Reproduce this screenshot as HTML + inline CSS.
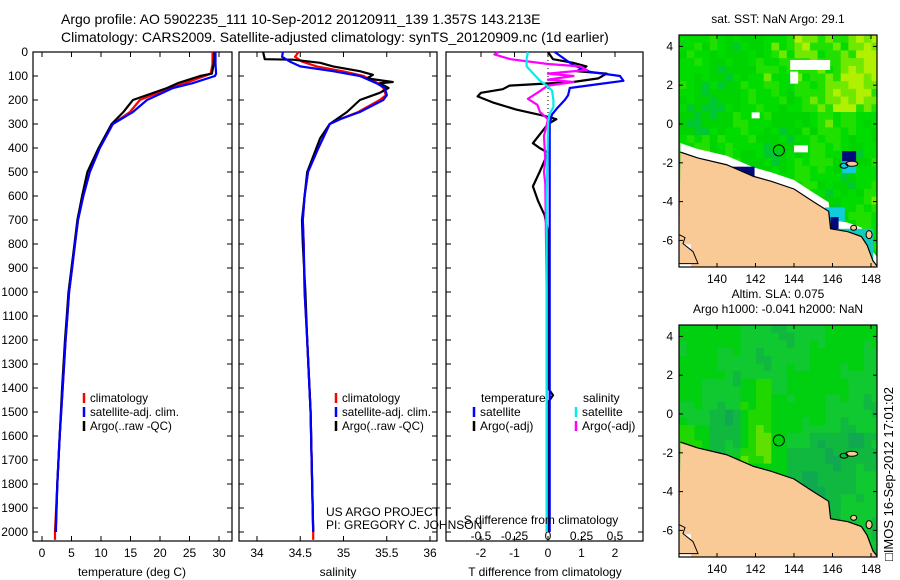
<!DOCTYPE html>
<html><head><meta charset="utf-8"><style>
html,body{margin:0;padding:0;background:#fff;}
svg{display:block;font-family:"Liberation Sans",sans-serif;}
</style></head><body>
<svg id="fig" width="900" height="580" viewBox="0 0 900 580" xmlns="http://www.w3.org/2000/svg">
<text x="61" y="24" font-size="14">Argo profile: AO 5902235_111 10-Sep-2012 20120911_139 1.357S 143.213E</text>
<text x="61" y="42" font-size="14">Climatology: CARS2009. Satellite-adjusted climatology: synTS_20120909.nc (1d earlier)</text>
<text transform="translate(893,474) rotate(-90)" text-anchor="middle" font-size="13">□IMOS 16-Sep-2012 17:01:02</text>
</svg>
<script>
// ---- data ----
const depthTicks = [0,100,200,300,400,500,600,700,800,900,1000,1100,1200,1300,1400,1500,1600,1700,1800,1900,2000];
const tempTicks = [0,5,10,15,20,25,30];
const salTicks = [34,34.5,35,35.5,36];
const salTickLabels = ['34','34.5','35','35.5','36'];
const tdiffTicks = [-2,-1,0,1,2];
const sdiffTicks = [-0.5,-0.25,0,0.25,0.5];
const sdiffTickLabels = ['-0.5','-0.25','0','0.25','0.5'];

const tDepth = [0,50,90,100,130,150,200,250,300,400,500,600,700,800,900,1000,1100,1200,1400,1600,1800,2000];
const tClim = [28.9,28.9,28.6,27.6,24.2,21.7,16.6,14.9,12.0,9.8,8.1,7.0,6.1,5.6,5.1,4.6,4.3,4.0,3.5,3.0,2.6,2.2];
const tSat  = [29.4,29.4,29.5,29.3,25.5,22.2,17.8,15.4,12.0,9.8,8.1,7.0,6.1,5.6,5.1,4.6,4.3,4.0,3.5,3.0,2.6,2.35];
const tArgo = [29.2,29.1,28.8,26.8,23.0,21.2,15.4,13.8,11.8,9.6,7.7,6.8,6.0,5.5,5.0,4.5,4.2,3.9,3.4,3.0,2.6,2.3];

const sDepth = [0,20,40,60,80,100,130,150,180,200,250,280,300,400,500,600,700,800,1000,1200,1500,2000];
const sClim = [34.48,34.44,34.52,34.69,34.99,35.23,35.40,35.46,35.49,35.42,35.17,34.96,34.84,34.71,34.59,34.55,34.53,34.54,34.55,34.58,34.62,34.65];
const sSat  = [34.30,34.29,34.38,34.50,34.88,35.19,35.38,35.48,35.50,35.46,35.19,34.96,34.84,34.71,34.59,34.55,34.53,34.54,34.55,34.58,34.62,34.65];
const sArgoDepth = [0,30,32,45,60,80,95,110,125,130,150,170,200,250,300,360,500,700,800,1000,1200,1500,2000];
const sArgo = [34.07,34.09,34.42,34.73,34.88,35.19,35.34,35.27,35.57,35.42,35.52,35.42,35.19,35.04,34.84,34.73,34.58,34.52,34.53,34.56,34.58,34.62,34.65];

const dSatTDepth = [0,54,83,100,120,135,150,180,200,230,260,300,500,1000,1500,2000];
const dSatT = [0.2,0.75,1.25,2.15,2.25,1.45,0.65,0.6,0.5,0.3,0.12,0.05,0.05,0.05,0.05,0.05];
const dArgoTDepth = [0,30,45,60,80,90,110,125,140,155,170,185,210,240,265,280,300,380,400,420,500,560,620,680,750,1000,1400,1430,1460,2000];
const dArgoT = [0,0.15,0.75,1.15,0.85,1.75,1.5,0.75,-1.15,-1.35,-2.0,-2.1,-1.65,-0.95,-0.15,0.25,0,-0.45,-0.25,0,-0.25,-0.45,-0.3,-0.1,0,0,0,0.15,0,0];
const dArgoSDepth = [0,10,30,50,60,75,90,100,115,125,140,170,195,220,250,280,350,450,500,550,1000,2000];
const dArgoS = [-0.37,-0.4,-0.28,0,0.24,0.29,0,0.19,0,0.19,0,-0.08,-0.15,-0.08,-0.06,0,-0.03,-0.02,-0.03,-0.02,-0.01,-0.01];
const dSatSDepth = [0,30,60,90,120,140,160,200,230,260,300,600,1000,2000];
const dSatS = [-0.15,-0.16,-0.16,-0.11,-0.06,-0.01,0.03,0.04,0.04,0.01,0,-0.01,-0.01,-0.01];

const mapLonTicks = [140,142,144,146,148];
const mapLatTicks = [-6,-4,-2,0,2,4];

// ---- scales ----
const TOP=52, BOT=541;
const yD = d => TOP + d*0.24;
const xT = t => 42 + 5.9*t;
const xS = s => 257 + (s-34)*86.5;
const xTd = v => 548 + 33.5*v;
const xSd = v => 548 + 134*v;

const svg = document.getElementById('fig');
const NS = 'http://www.w3.org/2000/svg';
function mk(tag, attrs, parent){
  const e = document.createElementNS(NS, tag);
  for (const k in attrs) e.setAttribute(k, attrs[k]);
  (parent||svg).appendChild(e);
  return e;
}
function txt(str, x, y, size, anchor, parent){
  const t = mk('text', {x:x, y:y, 'font-size':size, 'text-anchor':anchor||'start'}, parent);
  t.textContent = str;
  return t;
}

// ---- profile panels ----
const panels = [
  {name:'temperature-panel', x0:33, x1:232},
  {name:'salinity-panel', x0:239, x1:437},
  {name:'difference-panel', x0:446, x1:643}
];
panels.forEach(p=>{
  const g = mk('g', {});
  
  
  p.g = g;
  const r = mk('rect', {x:p.x0, y:TOP, width:p.x1-p.x0, height:BOT-TOP, fill:'#fff', stroke:'#000', 'stroke-width':1.2}, g);
  
  
  depthTicks.forEach(d=>{
    mk('line', {x1:p.x0, x2:p.x0+5, y1:yD(d), y2:yD(d), stroke:'#000'}, g);
    mk('line', {x1:p.x1, x2:p.x1-5, y1:yD(d), y2:yD(d), stroke:'#000'}, g);
  });
});
depthTicks.forEach(d=>{
  const t = txt(String(d), 28, yD(d)+4, 12, 'end');
  
  
});
function xTicks(p, ticks, labels, fx, ly){
  ticks.forEach((v,i)=>{
    const x = fx(v);
    mk('line', {x1:x, x2:x, y1:BOT, y2:BOT-5, stroke:'#000'}, p.g);
    mk('line', {x1:x, x2:x, y1:TOP, y2:TOP+5, stroke:'#000'}, p.g);
    const t = txt(labels[i], x, ly, 12, 'middle', p.g);
    
    
  });
}
xTicks(panels[0], tempTicks, tempTicks.map(String), xT, 557);
xTicks(panels[1], salTicks, salTickLabels, xS, 557);
xTicks(panels[2], tdiffTicks, tdiffTicks.map(String), xTd, 557);
sdiffTicks.forEach((v,i)=>{
  const t = txt(sdiffTickLabels[i], xSd(v), 540, 12, 'middle', panels[2].g);
  
  
});
let at;
at = txt('temperature (deg C)', 132, 576, 12, 'middle');


at = txt('salinity', 338, 576, 12, 'middle');


at = txt('T difference from climatology', 545, 576, 12, 'middle');


at = txt('S difference from climatology', 541, 524, 12, 'middle');



const zl = mk('line', {x1:xTd(0), x2:xTd(0), y1:TOP, y2:yD(260), stroke:'#000', 'stroke-dasharray':'1,3'}, panels[2].g);



function series(depths, vals, fx, color, name, parent){
  const pts = depths.map((d,i)=> fx(vals[i]).toFixed(1)+','+yD(d).toFixed(1)).join(' ');
  const pl = mk('polyline', {points:pts, fill:'none', stroke:color, 'stroke-width':2.2, 'stroke-linejoin':'round'}, parent);
  
  
}
series(tDepth.concat([2033]), tClim.concat([2.2]), xT, '#f00', 'temp-climatology-line', panels[0].g);
series(tDepth, tArgo, xT, '#000', 'temp-argo-line', panels[0].g);
series(tDepth, tSat, xT, '#00f', 'temp-satellite-line', panels[0].g);
series(sDepth.concat([2033]), sClim.concat([34.65]), xS, '#f00', 'sal-climatology-line', panels[1].g);
series(sArgoDepth, sArgo, xS, '#000', 'sal-argo-line', panels[1].g);
series(sDepth, sSat, xS, '#00f', 'sal-satellite-line', panels[1].g);
series(dArgoTDepth, dArgoT, xTd, '#000', 'tdiff-argo-line', panels[2].g);
series(dSatTDepth, dSatT, xTd, '#00f', 'tdiff-satellite-line', panels[2].g);
series(dArgoSDepth, dArgoS, xSd, '#f0f', 'sdiff-argo-line', panels[2].g);
series(dSatSDepth, dSatS, xSd, '#0ee', 'sdiff-satellite-line', panels[2].g);

function legendEntry(x, y, color, label, parent, fs){
  const g = mk('g', {}, parent);
  
  
  mk('line', {x1:x, x2:x, y1:y-9, y2:y+1, stroke:color, 'stroke-width':2.5}, g);
  txt(label, x+6, y, fs||12, 'start', g);
}
[[0,84],[1,336]].forEach(([pi,x])=>{
  legendEntry(x, 402, '#f00', 'climatology', panels[pi].g, 11.6);
  legendEntry(x, 416, '#00f', 'satellite-adj. clim.', panels[pi].g, 11.6);
  legendEntry(x, 430, '#000', 'Argo(..raw -QC)', panels[pi].g, 11.6);
});
let lt = txt('temperature', 481, 402, 12, 'start', panels[2].g);


lt = txt('salinity', 583, 402, 12, 'start', panels[2].g);


legendEntry(474, 416, '#00f', 'satellite', panels[2].g);
legendEntry(474, 430, '#000', 'Argo(-adj)', panels[2].g);
legendEntry(576, 416, '#0ee', 'satellite', panels[2].g);
legendEntry(576, 430, '#f0f', 'Argo(-adj)', panels[2].g);

let pt = txt('US ARGO PROJECT', 326, 516, 12, 'start');


pt = txt('PI: GREGORY C. JOHNSON', 326, 529, 12, 'start');



// ---- maps ----
const MX0=679, MX1=877;
const lonX = lon => 717 + (lon-140)*19.25;
const coast = [[138.1,-1.45],[139.0,-1.75],[140.5,-2.1],[141.9,-2.7],[142.8,-2.95],[144.0,-3.35],[145.0,-4.0],[145.8,-4.5],[145.9,-5.4],[146.8,-5.55],[147.5,-5.8],[147.8,-6.25],[148.1,-7.05],[148.3,-7.3]];
function makeMap(y0, name, titleLines, palette, kind){
  const lat0Y = y0 + 89;
  const latY = lat => lat0Y - lat*19.4;
  const g = mk('g', {});
  
  
  titleLines.forEach((s,i)=>{
    const t = txt(s, 778, y0 - 12 - (titleLines.length-1-i)*15, 12, 'middle', g);
    
    
  });
  const clipId = name+'-clip';
  const cp = mk('clipPath', {id:clipId}, g);
  mk('rect', {x:MX0, y:y0, width:MX1-MX0, height:232}, cp);
  const field = mk('g', {'clip-path':'url(#'+clipId+')'}, g);
  
  
  const cs = 7.7;
  for (let i=0;i<26;i++) for (let j=0;j<31;j++){
    let v;
    if (kind==='sst'){
      v = 0.42 + 0.12*Math.sin(i*0.55+j*0.31) + 0.08*Math.sin(i*1.7-j*1.1+1) + 0.06*Math.sin(i*3.1+j*2.3);
      v += (i/26)*0.2 - (j/31)*0.15 + ((j<10&&i>14)?0.2:0) + ((j>12&&j<16&&i<4)?0.3:0);
    } else {
      v = 0.4 + 0.1*Math.sin(i*0.35+j*0.25) + 0.05*Math.sin(i*1.3-j*0.9+1);
      v += (Math.abs(i-9.5)<2 && j>6 && j<18 ? 0.25:0) + (i<4 && j>12 && j<17 ? 0.25:0) - (i>13 && j>13 ? 0.15:0) - (i>3&&i<9&&j>10&&j<17?0.12:0);
    }
    v = Math.max(0, Math.min(0.999, v));
    mk('rect', {x:MX0+i*cs, y:y0+j*cs, width:cs+0.4, height:cs+0.4, fill:palette[Math.floor(v*palette.length)]}, field);
  }
  if (kind==='sst'){
    mk('rect', {x:lonX(143.8), y:latY(3.3), width:40, height:10, fill:'#fff'}, field);
    mk('rect', {x:lonX(143.8), y:latY(2.7), width:8, height:12, fill:'#fff'}, field);
    mk('rect', {x:lonX(141.8), y:latY(0.6), width:8, height:6, fill:'#fff'}, field);
    mk('rect', {x:lonX(144.0), y:latY(-1.1), width:14, height:7, fill:'#fff'}, field);
    mk('polygon', {points:coast.map(c=>lonX(c[0])+','+(latY(c[1])-9)).join(' ')+' '+coast.slice().reverse().map(c=>lonX(c[0])+','+latY(c[1])).join(' '), fill:'#fff'}, field);
    mk('rect', {x:lonX(140.6), y:latY(-2.2), width:26, height:12, fill:'#000a7a'}, field);
    mk('rect', {x:lonX(146.5), y:latY(-1.4), width:14, height:12, fill:'#000a7a'}, field);
    mk('rect', {x:lonX(146.5), y:latY(-1.4)+10, width:14, height:12, fill:'#11ccdd'}, field);
    mk('rect', {x:lonX(145.6), y:latY(-4.3), width:20, height:14, fill:'#11ccdd'}, field);
    mk('rect', {x:lonX(146.3), y:latY(-5.4), width:35, height:36, fill:'#11ccbb'}, field);
    mk('rect', {x:lonX(145.9), y:latY(-4.8), width:8, height:12, fill:'#000a7a'}, field);
  }
  const land = mk('polygon', {points:coast.map(c=>lonX(c[0])+','+latY(c[1])).join(' ')+' '+MX1+','+(y0+232)+' '+MX0+','+(y0+232), fill:'#f9c996', stroke:'none'}, field);
  
  
  const cl = mk('polyline', {points:coast.map(c=>lonX(c[0])+','+latY(c[1])).join(' '), fill:'none', stroke:'#000', 'stroke-width':1.2}, field);
  
  
  mk('ellipse', {cx:lonX(147.0), cy:latY(-2.05), rx:6, ry:2.5, fill:'#f9c996', stroke:'#000'}, field);
  mk('ellipse', {cx:lonX(146.6), cy:latY(-2.15), rx:4, ry:2.5, fill:'none', stroke:'#000'}, field);
  mk('ellipse', {cx:lonX(147.1), cy:latY(-5.35), rx:3, ry:2.5, fill:'#f9c996', stroke:'#000'}, field);
  mk('ellipse', {cx:lonX(147.9), cy:latY(-5.7), rx:3, ry:4, fill:'#f9c996', stroke:'#000'}, field);
  mk('rect', {x:MX0, y:latY(-6.2), width:12, height:30, fill:'#fff'}, field);
  mk('path', {d:'M'+MX0+','+latY(-5.7)+' l6,3 l-2,6 l10,8 l5,12 l-19,0 z', fill:'#f9c996', stroke:'#000'}, field);
  const fl = mk('circle', {cx:lonX(143.213), cy:latY(-1.357), r:5.5, fill:'none', stroke:'#000', 'stroke-width':1}, g);
  
  
  mk('rect', {x:MX0, y:y0, width:MX1-MX0, height:232, fill:'none', stroke:'#000', 'stroke-width':1.2}, g);
  mapLonTicks.forEach(lon=>{
    const x = lonX(lon);
    mk('line', {x1:x, x2:x, y1:y0+232, y2:y0+228, stroke:'#000'}, g);
    mk('line', {x1:x, x2:x, y1:y0, y2:y0+4, stroke:'#000'}, g);
    const t = txt(String(lon), x, y0+248, 12, 'middle', g);
    
    
  });
  mapLatTicks.forEach(lat=>{
    const y = latY(lat);
    mk('line', {x1:MX0, x2:MX0+4, y1:y, y2:y, stroke:'#000'}, g);
    mk('line', {x1:MX1, x2:MX1-4, y1:y, y2:y, stroke:'#000'}, g);
    const t = txt(String(lat), 673, y+4, 12, 'end', g);
    
    
  });
}
makeMap(35, 'sst-map', ['sat. SST: NaN Argo: 29.1'], ['#00b84a','#00c830','#00d400','#00dc00','#20e000','#70e800','#b0f000'], 'sst');
makeMap(325, 'sla-map', ['Altim. SLA: 0.075','Argo h1000: -0.041 h2000: NaN'], ['#10a850','#10b840','#10c830','#00d010','#20d800','#60e000','#90e800'], 'sla');
</script>
</body></html>
